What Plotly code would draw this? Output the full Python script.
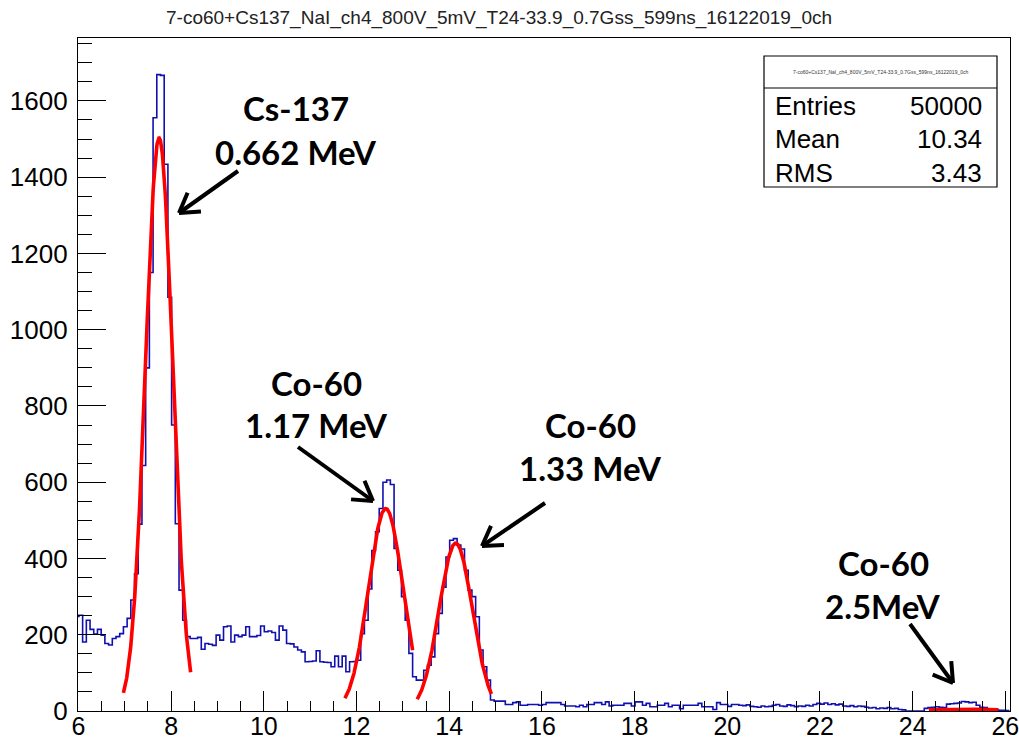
import numpy as np
import plotly.graph_objects as go

# ---------------- data ----------------
TITLE = "7-co60+Cs137_NaI_ch4_800V_5mV_T24-33.9_0.7Gss_599ns_16122019_0ch"
BIN_START = 5.93
BIN_WIDTH = 0.08

# bin contents, left to right
counts_low = [248, 251, 181, 238, 214, 202, 214, 199, 177, 173, 190, 195, 203,
              221, 243, 291, 360, 490, 644]
counts_cs137 = [900, 1150, 1556, 1669, 1667, 1434, 1085, 750, 491, 317, 238]
counts_compton = [195, 190, 190, 193, 162, 177, 175, 172, 199, 186, 221, 223,
                  181, 199, 195, 199, 221, 195, 195, 198, 223, 208, 210, 206,
                  186, 223, 212, 177, 176, 168, 160, 155, 129, 130, 131, 158,
                  129, 128, 127, 116, 144, 116, 144, 103, 129, 130]
counts_co60 = [133, 203, 238, 320, 421, 470, 531, 600, 606, 594, 426, 369, 300,
               238, 151, 90, 81, 81, 107, 120, 142, 203, 256, 325, 404, 448,
               452, 435, 425, 369, 317, 300, 247, 160, 116, 81, 29]
counts_tail = [26, 26, 26, 17, 17, 22, 24, 15, 15, 17, 17, 17, 15, 17, 22, 22,
               22, 22, 17, 13, 13, 13, 11, 15, 11, 17, 17, 22, 22, 17, 24, 13,
               15, 15, 15, 20, 20, 13, 24, 24, 15, 20, 11, 11, 15, 15, 20, 11,
               15, 15, 6, 15, 15, 15, 15, 20, 11, 11, 11, 4, 22, 17, 17, 12,
               17, 17, 15,
               14, 16, 12, 11, 10, 13, 11, 12, 15, 17, 13, 12, 16, 14, 11, 13,
               12, 15, 13, 17,
               20, 18, 21, 17, 19, 16, 18,
               13, 12, 14, 11, 13, 12,
               10, 8, 9, 6, 8, 7, 9, 6, 7,
               4, 3,
               0, 0, 0, 0, 0,
               7,
               9, 10, 11, 10, 9,
               18, 19, 20, 21,
               25, 24, 22, 23,
               15,
               10, 9,
               4, 4, 3,
               2, 2, 1]

counts = counts_low + counts_cs137 + counts_compton + counts_co60 + counts_tail

# gaussian fits: amplitude, mean, sigma, fit range
fit_amp = [1503, 531, 440, 4.5]
fit_mean = [7.74, 12.63, 14.14, 25.1]
fit_sigma = [0.293, 0.374, 0.36, 0.9]
fit_lo = [6.97, 11.75, 13.31, 24.35]
fit_hi = [8.42, 13.21, 14.91, 25.85]

# statistics box
stat_names = ["Entries", "Mean", "RMS"]
stat_values = ["50000", "10.34", "3.43"]

# peak labels: (line1, line2)
peak_labels = [("Cs-137", "0.662 MeV"), ("Co-60", "1.17 MeV"),
               ("Co-60", "1.33 MeV"), ("Co-60", "2.5MeV")]

# ---------------- layout geometry (pixels) ----------------
W, H = 1019, 741
L, R, T, B = 78, 1010, 38, 711


def px(x):
    return (x - L) / (R - L)


def py(y):
    return (B - y) / (B - T)


fig = go.Figure()

edges = BIN_START + BIN_WIDTH * np.arange(len(counts) + 1)
fig.add_trace(go.Scatter(
    x=edges, y=counts + [counts[-1]], mode="lines",
    line=dict(shape="hv", color="#1010b0", width=1.6),
    hoverinfo="skip", showlegend=False))

for a, m, s, lo, hi in zip(fit_amp, fit_mean, fit_sigma, fit_lo, fit_hi):
    xf = np.linspace(lo, hi, 200)
    yf = a * np.exp(-0.5 * ((xf - m) / s) ** 2)
    fig.add_trace(go.Scatter(x=xf, y=yf, mode="lines",
                             line=dict(color="#ff0000", width=3.6),
                             hoverinfo="skip", showlegend=False))

annotations = []
shapes = []

# title
annotations.append(dict(text=TITLE, xref="paper", yref="paper",
                        x=px(499), y=py(18), showarrow=False,
                        xanchor="center", yanchor="middle",
                        font=dict(family="Liberation Sans Narrow, Liberation Sans, Arial",
                                  size=19, color="#222")))

# statistics box
bx0, by0, bx1, by1 = 764, 56, 997, 187
shapes.append(dict(type="rect", xref="paper", yref="paper",
                   x0=px(bx0), x1=px(bx1), y0=py(by1), y1=py(by0),
                   line=dict(color="black", width=1.2), fillcolor="white",
                   layer="above"))
shapes.append(dict(type="line", xref="paper", yref="paper",
                   x0=px(bx0), x1=px(bx1), y0=py(88), y1=py(88),
                   line=dict(color="black", width=1.2), layer="above"))
annotations.append(dict(text=TITLE, xref="paper", yref="paper",
                        x=px(880), y=py(72), showarrow=False,
                        xanchor="center", yanchor="middle",
                        font=dict(family="Liberation Sans", size=5, color="#333")))
for i, (nm, val) in enumerate(zip(stat_names, stat_values)):
    yy = [106, 139, 173][i]
    annotations.append(dict(text=nm, xref="paper", yref="paper", x=px(773),
                            y=py(yy), showarrow=False, xanchor="left",
                            yanchor="middle",
                            font=dict(family="Liberation Sans", size=26, color="black")))
    annotations.append(dict(text=val, xref="paper", yref="paper", x=px(984),
                            y=py(yy), showarrow=False, xanchor="right",
                            yanchor="middle",
                            font=dict(family="Liberation Sans", size=26, color="black")))

# peak labels
label_pos = [(296, 108, 152), (316, 383, 425), (590, 425, 468), (883, 563, 606)]
for (l1, l2), (cx, y1, y2) in zip(peak_labels, label_pos):
    for txt, yy in ((l1, y1), (l2, y2)):
        annotations.append(dict(text="<b>%s</b>" % txt, xref="paper", yref="paper",
                                x=px(cx), y=py(yy), showarrow=False,
                                xanchor="center", yanchor="middle",
                                font=dict(family="Lato", size=33, color="black")))

# arrows: tail -> tip, with open V heads
arrows = [((238, 171), (179, 213)), ((298, 447), (373, 501)),
          ((545, 503), (482, 546)), ((910, 624), (953, 683))]
for (x0, y0), (x1, y1) in arrows:
    shapes.append(dict(type="line", xref="paper", yref="paper",
                       x0=px(x0), y0=py(y0), x1=px(x1), y1=py(y1),
                       line=dict(color="black", width=4), layer="above"))
    ang = np.arctan2(y0 - y1, x0 - x1)
    for d in (0.55, -0.55):
        wx = x1 + 22 * np.cos(ang + d)
        wy = y1 + 22 * np.sin(ang + d)
        shapes.append(dict(type="line", xref="paper", yref="paper",
                           x0=px(x1), y0=py(y1), x1=px(wx), y1=py(wy),
                           line=dict(color="black", width=4), layer="above"))

fig.update_layout(
    width=W, height=H, margin=dict(l=L, r=W - R, t=T, b=H - B),
    paper_bgcolor="white", plot_bgcolor="white",
    annotations=annotations, shapes=shapes,
    font=dict(family="Liberation Sans", color="black"),
)
fig.update_xaxes(range=[5.99, 26.1], tickmode="linear", tick0=6, dtick=2,
                 automargin=False, ticklabeloverflow="allow",
                 ticklabelstandoff=-7,
                 ticks="inside", ticklen=20, tickwidth=1.2, tickcolor="black",
                 minor=dict(dtick=0.5, ticks="inside", ticklen=10,
                            tickwidth=1.2, tickcolor="black"),
                 showline=True, linecolor="black", linewidth=1.2, mirror=True,
                 showgrid=False, zeroline=False,
                 tickfont=dict(family="Liberation Sans", size=25, color="black"))
fig.update_yaxes(range=[0, 1765], tickmode="linear", tick0=0, dtick=200,
                 automargin=False, ticklabelstandoff=4,
                 ticks="inside", ticklen=28, tickwidth=1.2, tickcolor="black",
                 minor=dict(dtick=50, ticks="inside", ticklen=14,
                            tickwidth=1.2, tickcolor="black"),
                 showline=True, linecolor="black", linewidth=1.2, mirror=True,
                 showgrid=False, zeroline=False,
                 tickfont=dict(family="Liberation Sans", size=26, color="black"))

fig.write_html("out.html")
